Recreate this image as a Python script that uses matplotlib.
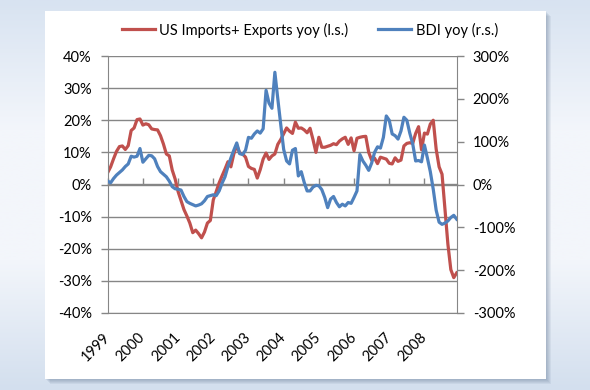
import numpy as np
import matplotlib.pyplot as plt
from matplotlib.patches import Rectangle
from matplotlib.colors import LinearSegmentedColormap
from matplotlib.ticker import FuncFormatter

plt.rcParams['font.family'] = ['Lato', 'DejaVu Sans']

# x-axis labels, one tick every 12 months (Jan 1999 .. Dec 2008)
years = ['1999', '2000', '2001', '2002', '2003', '2004', '2005', '2006', '2007', '2008']

# US imports + exports, yoy %  (left scale)
us_trade_yoy = [
    3.7, 5.5, 8.0, 10.3, 11.8, 12.0, 10.9, 12.1, 16.8, 17.6, 20.2, 20.4,
    18.5, 18.9, 18.6, 17.3, 17.1, 17.0, 15.2, 12.6, 9.5, 8.9, 4.5, 1.7,
    -2.2, -5.0, -7.8, -9.8, -12.0, -15.0, -14.2, -15.3, -16.6, -14.8, -12.0, -11.2,
    -4.8, -2.2, 0.5, 2.7, 4.8, 7.1, 5.5, 9.5, 12.2, 9.8, 9.5, 8.5,
    5.6, 5.0, 4.7, 2.0, 4.6, 7.9, 9.8, 7.8, 8.9, 9.5, 12.5, 14.0,
    15.8, 17.6, 16.6, 15.9, 19.4, 17.5, 17.6, 17.0, 16.1, 17.5, 14.0, 10.0,
    14.7, 11.6, 11.6, 11.9, 12.2, 12.7, 12.4, 13.5, 14.2, 14.7, 12.5, 14.5,
    10.5, 14.4, 14.7, 14.9, 15.0, 10.0, 7.6, 8.2, 6.5, 8.5, 8.2, 7.9,
    6.6, 6.4, 8.3, 7.2, 7.6, 12.0, 12.8, 13.0, 12.8, 15.9, 18.0, 10.8,
    16.0, 15.7, 18.8, 20.0, 11.0, 5.5, 3.2, -7.7, -18.6, -26.5, -29.0, -27.5,
]

# Baltic Dry Index, yoy %  (right scale)
bdi_yoy = [
    8, 4, 14, 22, 28, 34, 42, 48, 66, 64, 66, 84,
    52, 60, 68, 67, 60, 42, 30, 24, 18, 8, -5, -10,
    -11, -13, -28, -40, -44, -47, -50, -48, -45, -38, -28, -26,
    -24, -26, -15, 3, 18, 42, 62, 80, 97, 72, 70, 80,
    110, 108, 118, 125, 120, 130, 220, 190, 178, 262, 200, 140,
    82, 55, 48, 80, 84, 20, 30, 5, -15, -15, -6, -2,
    -3, -12, -30, -54, -34, -28, -42, -52, -46, -50, -42, -44,
    -30, -15, 70, 55, 45, 33, 50, 75, 88, 85, 110, 160,
    150, 118, 114, 106, 125, 157, 150, 120, 95, 55, 56, 53,
    92, 62, 30, -11, -60, -88, -93, -90, -85, -77, -72, -81,
]

months = np.arange(len(us_trade_yoy))
year_ticks = months[::12][:len(years)]

grey = '#868686'
fs = 10.5

fig = plt.figure(figsize=(5.9, 3.9), dpi=100)

# background gradient + white chart panel with a soft shadow
bg = fig.add_axes([0, 0, 1, 1])
bg.axis('off')
cmap = LinearSegmentedColormap.from_list('bg', ['#d3dfee', '#f3f6fb', '#f3f6fb', '#d8e3f1'])
bg.imshow(np.linspace(0, 1, 256).reshape(-1, 1), cmap=cmap, aspect='auto',
          extent=[0, 1, 0, 1], origin='lower')
px, py = 1 / 590, 1 / 390
x0, y0, w, h = 45 * px, 1 - 379 * py, 501 * px, 368 * py
for k in range(1, 6):
    bg.add_patch(Rectangle((x0 + k * px, y0 - k * py), w, h, color='#5a6f8c',
                           alpha=0.09, lw=0, transform=bg.transAxes))
bg.add_patch(Rectangle((x0, y0), w, h, color='white', lw=0, transform=bg.transAxes))
bg.set_xlim(0, 1)
bg.set_ylim(0, 1)

ax = fig.add_axes([107.7 * px, 1 - 313 * py, 349 * px, 257 * py])
ax.patch.set_alpha(0)
l1, = ax.plot(months, us_trade_yoy, color='#c0504d', lw=2.3, label='US Imports+ Exports yoy (l.s.)')
ax.set_xlim(months[0], months[-1])
ax.set_ylim(-40, 40)
ax.set_yticks(range(-40, 41, 10))
ax.yaxis.set_major_formatter(FuncFormatter(lambda v, p: f'{v:.0f}%'))
ax.grid(axis='y', color=grey, lw=1)
ax.set_axisbelow(True)
ax.set_xticks(year_ticks)
ax.set_xticklabels(years, rotation=45, ha='right', va='center', rotation_mode='anchor')
ax.tick_params(axis='x', length=0, pad=16, labelsize=fs)
ax.tick_params(axis='y', direction='out', length=5, width=1, color=grey, pad=6.5, labelsize=fs)
for s in ['top', 'right']:
    ax.spines[s].set_visible(False)
for s in ['left', 'bottom']:
    ax.spines[s].set_color(grey)

# category axis ticks sit on the 0% line
sec = ax.secondary_xaxis(0.5)
sec.set_xticks(year_ticks)
sec.set_xticklabels([])
sec.tick_params(direction='out', length=4, width=1, color=grey)
for sp in sec.spines.values():
    sp.set_color(grey)
    sp.set_linewidth(1)

ax2 = ax.twinx()
l2, = ax2.plot(months, bdi_yoy, color='#4f81bd', lw=2.3, label='BDI yoy (r.s.)')
ax2.set_ylim(-300, 300)
ax2.set_yticks(range(-300, 301, 100))
ax2.yaxis.set_major_formatter(FuncFormatter(lambda v, p: f'{v:.0f}%'))
ax2.tick_params(axis='y', direction='out', length=5, width=1, color=grey, pad=6.5, labelsize=fs)
for s in ['top', 'left', 'bottom']:
    ax2.spines[s].set_visible(False)
ax2.spines['right'].set_color(grey)

fig.legend([l1, l2], [l1.get_label(), l2.get_label()], loc='center',
           bbox_to_anchor=(0.525, 1 - 30 * py), ncol=2, frameon=False, fontsize=fs,
           handlelength=2.3, handletextpad=0.3, columnspacing=2.0)

fig.savefig('out.png', dpi=100)
